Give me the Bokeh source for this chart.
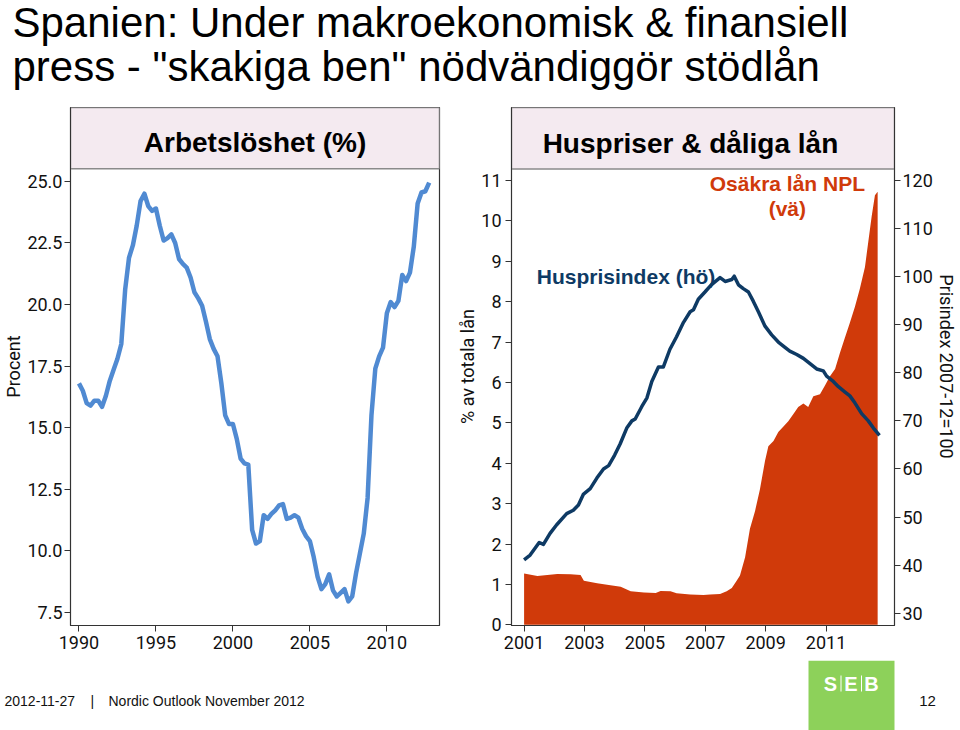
from bokeh.plotting import figure
from bokeh.models import Range1d, LinearAxis, FixedTicker, NumeralTickFormatter
from bokeh.layouts import column, row
from bokeh.embed import file_html
from bokeh.resources import INLINE
from bokeh.core.properties import value
import numpy as np

# ---------------- data ----------------
title_lines = ["Spanien: Under makroekonomisk & finansiell",
               "press - \"skakiga ben\" nödvändiggör stödlån"]

# Spain unemployment rate (%), quarterly from 1990 Q1
unemp_start_year = 1990
unemp_values = [
    16.8, 16.5, 16.0, 15.9,
    16.1, 16.1, 15.85, 16.3,
    16.9, 17.35, 17.8, 18.4,
    20.6, 21.9, 22.4, 23.2,
    24.2, 24.5, 24.0, 23.8,
    23.9, 23.2, 22.6, 22.7,
    22.85, 22.5, 21.85, 21.65,
    21.5, 21.1, 20.5, 20.25,
    19.95, 19.3, 18.6, 18.2,
    17.9, 16.8, 15.5, 15.15,
    15.15, 14.55, 13.75, 13.55,
    13.5, 10.85, 10.3, 10.4,
    11.45, 11.3, 11.5, 11.65,
    11.85, 11.9, 11.3, 11.35,
    11.45, 11.35, 10.9, 10.6,
    10.4, 9.75, 8.95, 8.45,
    8.65, 9.05, 8.4, 8.15,
    8.3, 8.45, 7.95, 8.15,
    9.1, 9.9, 10.7, 12.15,
    15.5, 17.4, 17.9, 18.25,
    19.65, 20.1, 19.9, 20.15,
    21.2, 20.95, 21.3, 22.35,
    24.1, 24.55, 24.6, 24.95,
]
unemp_x = unemp_start_year + 0.25 * np.arange(len(unemp_values))
unemp_xticks = [1990, 1995, 2000, 2005, 2010]
unemp_yticks = [7.5, 10.0, 12.5, 15.0, 17.5, 20.0, 22.5, 25.0]

# Non-performing loans (% of total loans, left axis)
npl_x = [2001.0, 2001.44, 2001.77, 2002.1, 2002.54, 2002.87, 2002.98, 2003.42,
         2003.86, 2004.2, 2004.53, 2004.97, 2005.36, 2005.52, 2005.85, 2006.05,
         2006.5, 2006.94, 2007.16, 2007.49, 2007.71, 2007.88, 2008.04, 2008.15,
         2008.32, 2008.48, 2008.65, 2008.81, 2008.98, 2009.09, 2009.26, 2009.42,
         2009.59, 2009.75, 2009.92, 2010.08, 2010.25, 2010.41, 2010.58, 2010.8,
         2010.97, 2011.13, 2011.3, 2011.46, 2011.63, 2011.79, 2011.96, 2012.12,
         2012.29, 2012.4, 2012.51, 2012.62, 2012.71]
npl_y = [1.27, 1.21, 1.23, 1.26, 1.25, 1.23, 1.09, 1.03,
         0.98, 0.94, 0.83, 0.80, 0.79, 0.84, 0.83, 0.78,
         0.75, 0.74, 0.75, 0.76, 0.83, 0.91, 1.09, 1.22,
         1.67, 2.38, 2.82, 3.35, 4.06, 4.42, 4.55, 4.77,
         4.91, 5.04, 5.22, 5.39, 5.48, 5.39, 5.66, 5.71,
         5.93, 6.15, 6.33, 6.73, 7.12, 7.48, 7.88, 8.32,
         8.86, 9.48, 10.10, 10.63, 10.72]

# House price index (2007-12 = 100, right axis)
hp_x = [2001.0, 2001.2, 2001.5, 2001.64, 2001.86, 2002.08, 2002.41, 2002.63,
        2002.8, 2002.96, 2003.19, 2003.41, 2003.63, 2003.8, 2004.0, 2004.18,
        2004.4, 2004.57, 2004.68, 2004.9, 2005.07, 2005.23, 2005.45, 2005.61,
        2005.83, 2006.05, 2006.28, 2006.5, 2006.61, 2006.77, 2006.99, 2007.2,
        2007.49, 2007.66, 2007.88, 2007.96, 2008.1, 2008.26, 2008.43, 2008.59,
        2008.76, 2008.98, 2009.2, 2009.42, 2009.64, 2009.8, 2010.03, 2010.25,
        2010.47, 2010.69, 2010.91, 2011.02, 2011.24, 2011.41, 2011.63, 2011.79,
        2011.96, 2012.18, 2012.4, 2012.57, 2012.77]
hp_y = [41.1, 42.1, 44.7, 44.3, 46.6, 48.4, 50.7, 51.4,
        52.5, 54.7, 55.9, 58.1, 60.0, 60.7, 62.9, 65.2,
        68.5, 70.0, 70.4, 73.0, 74.8, 78.2, 81.2, 81.2,
        84.9, 87.5, 90.5, 92.7, 93.1, 95.3, 96.8, 98.3,
        99.8, 99.0, 99.4, 100.1, 98.3, 97.5, 96.8, 94.9,
        92.7, 89.7, 87.9, 86.4, 85.3, 84.5, 83.8, 83.0,
        81.9, 80.8, 80.4, 79.3, 78.2, 77.1, 76.0, 75.2,
        73.7, 71.5, 70.0, 68.5, 67.0]

hp_xticks = [2001, 2003, 2005, 2007, 2009, 2011]
npl_yticks = list(range(0, 12))
hp_yticks = [30, 40, 50, 60, 70, 80, 90, 100, 110, 120]

footer_date = "2012-11-27"
footer_text = "Nordic Outlook November 2012"
page_number = "12"

# ---------------- styles ----------------
TICK_FONT = "Roboto"
HEAD_FONT = "Liberation Sans"
AXIS_COLOR = "#333333"
BOX_FILL = "#F4EAF0"
BOX_LINE = "#8a8a8a"
BLUE = "#508AD2"
NAVY = "#0E3A64"
RED = "#D03A0A"
GREEN = "#8DD15A"


def style_axis(ax, standoff=4):
    ax.major_label_text_font = TICK_FONT
    ax.major_label_text_font_size = "18px"
    ax.major_label_text_color = "#111111"
    ax.major_tick_out = 6
    ax.major_tick_in = 0
    ax.minor_tick_out = 0
    ax.minor_tick_in = 0
    ax.axis_line_color = AXIS_COLOR
    ax.major_tick_line_color = AXIS_COLOR
    ax.major_label_standoff = standoff
    ax.axis_label_text_font = TICK_FONT
    ax.axis_label_text_font_style = "normal"
    ax.axis_label_text_font_size = "18px"
    ax.axis_label_text_color = "#111111"
    ax.axis_label_standoff = 0


def base_fig(**kw):
    p = figure(output_backend="svg", toolbar_location=None, title=None, **kw)
    p.xgrid.visible = False
    p.ygrid.visible = False
    p.background_fill_color = "white"
    p.border_fill_color = "white"
    return p


# ---------------- header ----------------
header = base_fig(width=960, height=100, x_range=Range1d(0, 960), y_range=Range1d(100, 0),
                  x_axis_location=None, y_axis_location=None,
                  min_border=0)
header.outline_line_color = None
header.text(x=[12, 12], y=[22, 66], text=title_lines,
            text_font=value(HEAD_FONT), text_font_size="42px",
            text_color="black", text_baseline="middle", text_align="left")

# ---------------- left panel: unemployment ----------------
lx0, lx1 = 1989.45, 2013.42
ly0, ly1 = 6.972, 28.0
l_box_bottom = 25.516
left = base_fig(width=450, height=560, x_range=Range1d(lx0, lx1), y_range=Range1d(ly0, ly1),
                min_border_left=70, min_border_right=11, min_border_top=7, min_border_bottom=35)
left.outline_line_color = AXIS_COLOR
left.outline_line_width = 1.2
left.quad(left=[lx0], right=[lx1], bottom=[l_box_bottom], top=[ly1],
          fill_color=BOX_FILL, line_color=BOX_LINE, line_width=1.5)
left.text(x=[(lx0 + lx1) / 2], y=[26.58], text=["Arbetslöshet (%)"],
          text_font=value(HEAD_FONT), text_font_size="28px", text_font_style="bold",
          text_color="black", text_align="center", text_baseline="middle")
left.line(unemp_x, unemp_values, line_color=BLUE, line_width=4.5, line_join="round")
left.xaxis.ticker = FixedTicker(ticks=unemp_xticks)
left.yaxis.ticker = FixedTicker(ticks=unemp_yticks)
left.yaxis.formatter = NumeralTickFormatter(format="0.0")
left.yaxis.axis_label = "Procent"
for ax in left.xaxis:
    style_axis(ax)
for ax in left.yaxis:
    style_axis(ax, standoff=2)

# ---------------- right panel: house prices & NPL ----------------
rx0, rx1 = 2000.583, 2013.268
ry0, ry1 = -0.017, 12.805
r_box_bottom = 11.28
hp0, hp1 = 27.44, 135.18
right = base_fig(width=510, height=560, x_range=Range1d(rx0, rx1), y_range=Range1d(ry0, ry1),
                 min_border_left=61, min_border_right=66, min_border_top=7, min_border_bottom=35)
right.extra_y_ranges = {"hp": Range1d(hp0, hp1)}
right.outline_line_color = AXIS_COLOR
right.outline_line_width = 1.2
right.quad(left=[rx0], right=[rx1], bottom=[r_box_bottom], top=[ry1],
           fill_color=BOX_FILL, line_color=BOX_LINE, line_width=1.5)
right.text(x=[2006.51], y=[11.92], text=["Huspriser & dåliga lån"],
           text_font=value(HEAD_FONT), text_font_size="28px", text_font_style="bold",
           text_color="black", text_align="center", text_baseline="middle")
right.varea(x=npl_x, y1=[0] * len(npl_x), y2=npl_y, fill_color=RED)
right.line(hp_x, hp_y, y_range_name="hp", line_color=NAVY, line_width=3.5, line_join="round")
right.text(x=[2009.72, 2009.72], y=[10.93, 10.31], text=["Osäkra lån NPL", "(vä)"],
           text_font=value(HEAD_FONT), text_font_size="21px", text_font_style="bold",
           text_color=RED, text_align="center", text_baseline="middle")
right.text(x=[2001.42], y=[8.62], text=["Husprisindex (hö)"],
           text_font=value(HEAD_FONT), text_font_size="21px", text_font_style="bold",
           text_color=NAVY, text_align="left", text_baseline="middle")
right.xaxis.ticker = FixedTicker(ticks=hp_xticks)
right.yaxis.ticker = FixedTicker(ticks=npl_yticks)
right.yaxis.axis_label = "% av totala lån"
hp_axis = LinearAxis(y_range_name="hp", ticker=FixedTicker(ticks=hp_yticks),
                     axis_label="Prisindex 2007-12=100")
right.add_layout(hp_axis, "right")
for ax in right.xaxis + right.yaxis:
    style_axis(ax)
style_axis(hp_axis, standoff=2)

# ---------------- footer ----------------
footer = base_fig(width=960, height=70, x_range=Range1d(0, 960), y_range=Range1d(70, 0),
                  x_axis_location=None, y_axis_location=None, min_border=0)
footer.outline_line_color = None
footer.text(x=[4, 90, 108], y=[40, 40, 40], text=[footer_date, "|", footer_text],
            text_font=value(HEAD_FONT), text_font_size="14px", text_color="#111111",
            text_baseline="middle", text_align="left")
footer.quad(left=[808], right=[894], bottom=[70], top=[0], fill_color=GREEN, line_color=None)
footer.text(x=[830, 850.5, 871], y=[23, 23, 23], text=["S", "E", "B"],
            text_font=value(HEAD_FONT), text_font_size="20px", text_font_style="bold",
            text_color="white", text_align="center", text_baseline="middle")
footer.segment(x0=[840.5, 861], y0=[15, 15], x1=[840.5, 861], y1=[31, 31],
               line_color="white", line_width=1)
footer.text(x=[927], y=[40], text=[page_number],
            text_font=value(HEAD_FONT), text_font_size="15px", text_color="#111111",
            text_baseline="middle", text_align="center")

root = column(header, row(left, right, spacing=0), footer, spacing=0)
root.styles = {"position": "absolute", "left": "0px", "top": "0px"}

open("out.html", "w").write(file_html(root, INLINE))
